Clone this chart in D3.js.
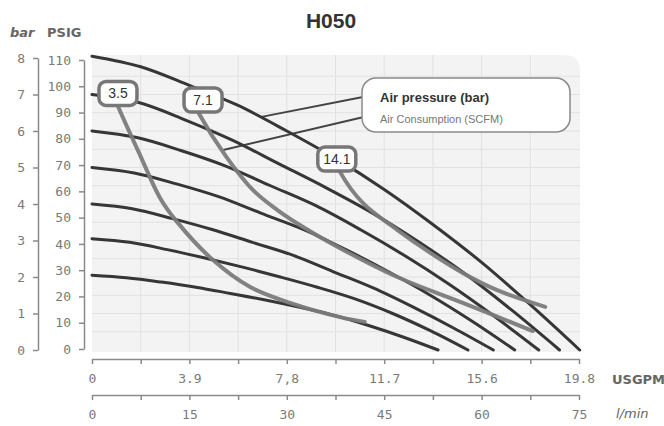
<!DOCTYPE html>
<html><head><meta charset="utf-8">
<script src="https://cdn.jsdelivr.net/npm/d3@7"></script>
<style>body{margin:0;background:#fff}svg{display:block}</style>
</head><body>
<svg id="c" width="664" height="426"></svg>
<script>
// ---- data (flow in l/min, pressure in bar) ----
const flowTicks = [0, 15, 30, 45, 60, 75];
const usgpmLabels = ["0", "3.9", "7,8", "11.7", "15.6", "19.8"];
const barTicks = [0, 1, 2, 3, 4, 5, 6, 7, 8];
const psiTicks = [0, 10, 20, 30, 40, 50, 60, 70, 80, 90, 100, 110];

const pres2 = [[0,2.05],[5.3,1.98],[10.7,1.86],[16,1.72],[21.3,1.55],[26.7,1.37],[32,1.17],[37.3,0.95],[42.6,0.67],[48,0.35],[53.3,0]];
const pres3 = [[0,3.05],[5.8,2.95],[11.6,2.75],[17.4,2.52],[23.2,2.27],[29,2.0],[34.7,1.72],[40.5,1.4],[46.3,1.0],[52.1,0.53],[57.9,0]];
const pres4 = [[0,4.0],[6.2,3.87],[12.4,3.6],[18.5,3.3],[24.7,2.95],[30.9,2.6],[37.1,2.15],[43.3,1.7],[49.4,1.18],[55.6,0.61],[61.8,0]];
const pres5 = [[0,5.0],[6.5,4.85],[13,4.55],[19.5,4.2],[26,3.75],[32.6,3.3],[39.1,2.75],[45.6,2.15],[52.1,1.5],[58.6,0.78],[65.1,0]];
const pres6 = [[0,6.0],[6.9,5.82],[13.8,5.46],[20.6,5.04],[27.5,4.5],[34.4,3.96],[41.3,3.3],[48.2,2.58],[55,1.8],[61.9,0.93],[68.8,0]];
const pres7 = [[0,7.0],[7.2,6.78],[14.4,6.3],[21.6,5.75],[28.8,5.1],[36,4.45],[43.2,3.75],[50.4,2.95],[57.6,2.07],[64.8,1.07],[72,0]];
const pres8 = [[0,8.05],[7.5,7.76],[15,7.25],[22.5,6.7],[30,6.0],[37.5,5.25],[45,4.4],[52.5,3.44],[60,2.4],[67.5,1.24],[75.1,0]];
const pressureCurves = [pres2, pres3, pres4, pres5, pres6, pres7, pres8];

const cons35 = [[3.3,7.0],[4.0,6.68],[7.4,5.34],[10.5,4.16],[13.1,3.51],[18.6,2.47],[24.3,1.73],[30.5,1.29],[38.2,0.9],[42.0,0.77]];
const cons71 = [[15.5,6.85],[16.6,6.44],[20.5,5.34],[24.8,4.38],[28.5,3.84],[32.5,3.37],[38.2,2.79],[47.0,2.0],[57.1,1.29],[67.9,0.52]];
const cons141 = [[37.5,5.2],[38.2,4.88],[41.7,4.03],[47.0,3.29],[52.1,2.66],[57.1,2.11],[62.4,1.64],[69.8,1.18]];
const consumptionCurves = [cons35, cons71, cons141];
const consLabels = ["3.5", "7.1", "14.1"];
const consLabelAt = [[4.0,7.03],[17.1,6.85],[37.7,5.23]];

const legendItems = ["Air pressure (bar)", "Air Consumption (SCFM)"];
const leaderTargets = [[25.9,6.38],[20.2,5.48]];

// ---- drawing ----
const svg = d3.select("#c");
const x = d3.scaleLinear().domain([0, 75]).range([92, 579]);
const yBar = d3.scaleLinear().domain([0, 8]).range([350, 58]);
const yPsi = d3.scaleLinear().domain([0, 110]).range([349, 60]);

// plot background with rounded top-right
const L = 92, R = 580, T = 55, B = 352, rr = 16;
svg.append("path")
  .attr("d", `M${L},${T}H${R-rr}Q${R},${T} ${R},${T+rr}V${B}H${L}Z`)
  .attr("fill", "#f3f3f3");

// grid
const grid = svg.append("g").attr("stroke", "#e1e1e1").attr("stroke-width", 1);
d3.range(7.5, 75, 7.5).forEach(v => {
  grid.append("line").attr("x1", x(v)).attr("x2", x(v)).attr("y1", T).attr("y2", B);
});
d3.range(0.5, 8, 0.5).forEach(v => {
  grid.append("line").attr("x1", L).attr("x2", R).attr("y1", yBar(v)).attr("y2", yBar(v));
});

// axes
const axisColor = "#8a8a8a";
const numFont = "'DejaVu Sans Mono', monospace";
function styleAxis(g, fs) {
  g.selectAll("path.domain").attr("stroke", axisColor).attr("stroke-width", 1.5);
  g.selectAll(".tick line").attr("stroke", axisColor).attr("stroke-width", 1.5);
  g.selectAll(".tick text").attr("fill", "#7a7a7a").style("font-family", numFont).style("font-size", fs + "px");
}
const gBar = svg.append("g").attr("transform", "translate(38,0)")
  .call(d3.axisLeft(yBar).tickValues(barTicks).tickSize(5).tickSizeOuter(0).tickPadding(8));
styleAxis(gBar, 13);
const gPsi = svg.append("g").attr("transform", "translate(84,0)")
  .call(d3.axisLeft(yPsi).tickValues(psiTicks).tickSize(5).tickSizeOuter(0).tickPadding(8));
styleAxis(gPsi, 13);

const minorTicks = d3.range(0, 75.1, 7.5);
function bottomAxis(yPos, labels) {
  const g = svg.append("g").attr("transform", `translate(0,${yPos})`);
  g.call(d3.axisBottom(x).tickValues(minorTicks).tickSize(5).tickSizeOuter(0).tickPadding(10)
    .tickFormat(d => { const i = flowTicks.indexOf(d); return i >= 0 ? labels[i] : ""; }));
  styleAxis(g, 13);
  return g;
}
bottomAxis(359, usgpmLabels);
bottomAxis(395, flowTicks.map(String));

// axis titles
svg.append("text").attr("x", 10).attr("y", 37).text("bar")
  .attr("fill", "#666").style("font-family", "'DejaVu Sans', sans-serif").style("font-size", "13px").style("font-style", "italic").style("font-weight", "bold");
svg.append("text").attr("x", 47).attr("y", 37).text("PSIG")
  .attr("fill", "#666").style("font-family", "'DejaVu Sans', sans-serif").style("font-size", "13px").style("font-weight", "bold");
svg.append("text").attr("x", 612).attr("y", 384).text("USGPM")
  .attr("fill", "#666").style("font-family", "'DejaVu Sans', sans-serif").style("font-size", "13px").style("font-weight", "bold");
svg.append("text").attr("x", 616).attr("y", 418).text("l/min")
  .attr("fill", "#666").style("font-family", "'DejaVu Sans', sans-serif").style("font-size", "13px").style("font-style", "italic");

// title
svg.append("text").attr("x", 331).attr("y", 28).attr("text-anchor", "middle").text("H050")
  .attr("fill", "#333").style("font-family", "'Liberation Sans', Arial, sans-serif").style("font-size", "21px").style("font-weight", "bold");

const line = d3.line().x(d => x(d[0])).y(d => yBar(d[1])).curve(d3.curveCatmullRom.alpha(0.5));

// leader lines
const legX = 362, legY = 78, legW = 208, legH = 54;
const leaderStarts = [[368, 96], [368, 116]];
leaderTargets.forEach((t, i) => {
  svg.append("line").attr("x1", leaderStarts[i][0]).attr("y1", leaderStarts[i][1])
    .attr("x2", x(t[0])).attr("y2", yBar(t[1]))
    .attr("stroke", "#444").attr("stroke-width", 2);
});

// pressure curves
svg.append("g").selectAll("path").data(pressureCurves).join("path")
  .attr("d", line).attr("fill", "none").attr("stroke", "#363636").attr("stroke-width", 3).attr("stroke-linecap", "round");

// consumption curves
svg.append("g").selectAll("path").data(consumptionCurves).join("path")
  .attr("d", line).attr("fill", "none").attr("stroke", "#7b7b7b").attr("stroke-width", 4).attr("stroke-linecap", "round").attr("opacity", 0.95);

// consumption labels
const lg = svg.append("g").selectAll("g").data(consLabels).join("g")
  .attr("transform", (d, i) => `translate(${x(consLabelAt[i][0])},${yBar(consLabelAt[i][1])})`);
lg.append("rect").attr("x", -19).attr("y", -12).attr("width", 38).attr("height", 24).attr("rx", 7)
  .attr("fill", "#fff").attr("stroke", "#777").attr("stroke-width", 3.5);
lg.append("text").attr("text-anchor", "middle").attr("y", 5).text(d => d)
  .attr("fill", "#333").style("font-family", "'Liberation Sans', Arial, sans-serif").style("font-size", "14px");

// legend
svg.append("rect").attr("x", legX).attr("y", legY).attr("width", legW).attr("height", legH).attr("rx", 14)
  .attr("fill", "#fff").attr("stroke", "#8a8a8a").attr("stroke-width", 1.5);
svg.append("text").attr("x", 380).attr("y", 102).text(legendItems[0])
  .attr("fill", "#333").style("font-family", "'Liberation Sans', Arial, sans-serif").style("font-size", "13px").style("font-weight", "bold");
svg.append("text").attr("x", 380).attr("y", 123).text(legendItems[1])
  .attr("fill", "#777").style("font-family", "'Liberation Sans', Arial, sans-serif").style("font-size", "11px");
</script>
</body></html>
